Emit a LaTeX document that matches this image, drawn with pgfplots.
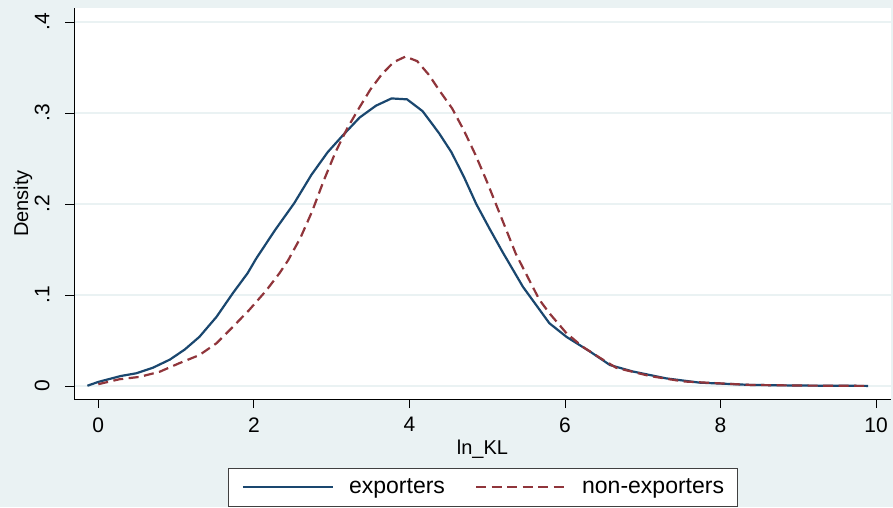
\documentclass[border=0pt]{standalone}
\usepackage{pgfplots}
\pgfplotsset{compat=1.18}
\usepackage{fontspec}
\setmainfont{Liberation Sans}
\definecolor{stbg}{RGB}{234,242,243}
\definecolor{stnavy}{RGB}{26,71,111}
\definecolor{stmaroon}{RGB}{144,53,59}
\definecolor{stgrid}{RGB}{234,242,243}
\begin{document}
\begin{tikzpicture}[x=1pt,y=1pt,font=\fontsize{21}{25}\selectfont]
\useasboundingbox (0,0) rectangle (893,507);
\clip (0,0) rectangle (893,507);
\fill[stbg] (0,0) rectangle (893,507);
\begin{axis}[
  at={(74pt,108pt)}, anchor=south west,
  scale only axis, width=817pt, height=391pt,
  xmin=-0.3125, xmax=10.193, ymin=-0.01429, ymax=0.41538,
  axis lines*=left, axis line style={black, line width=0.8pt, -},
  axis background/.style={fill=white},
  xtick={0,2,4,6,8,10},
  ytick={0,0.1,0.2,0.3,0.4}, yticklabels={0,.1,.2,.3,.4},
  tick align=outside, major tick length=9pt,
  tick style={black, line width=0.8pt},
  ymajorgrids, grid style={stgrid, line width=1.6pt},
  yticklabel style={xshift=-12pt, rotate=90, anchor=south},
  xticklabel style={yshift=-6pt},
  /pgf/number format/assume math mode=true,
  xlabel={ln\_KL}, ylabel={Density},
  every axis x label/.style={at={(axis description cs:0.5,-0.1279)}, anchor=center, font=\fontsize{20}{24}\selectfont},
  every axis y label/.style={at={(axis description cs:-0.0624,0.5)}, rotate=90, anchor=center, font=\fontsize{20}{24}\selectfont},
  legend style={at={(axis description cs:0.5006,-0.1754)}, anchor=north,
    legend columns=2, draw=black!75, fill=white, line width=0.8pt,
    font=\fontsize{23}{27}\selectfont,
    nodes={inner sep=0pt},
    /tikz/every odd column/.append style={column sep=15pt},
    /tikz/every even column/.append style={column sep=30pt},
    inner xsep=13pt, inner ysep=11pt},
  legend image code/.code={\draw[#1] (0pt,0pt) -- (90pt,0pt);},
]
\addplot[stnavy, line width=2.2pt] coordinates {
(-0.14,0.0003) (0.0,0.0045) (0.29,0.011) (0.49,0.014) (0.70,0.020) (0.92,0.029)
(1.11,0.040) (1.30,0.054) (1.52,0.076) (1.73,0.102) (1.92,0.124) (2.03,0.140)
(2.27,0.171) (2.52,0.201) (2.74,0.232) (2.95,0.257) (3.15,0.276) (3.36,0.295)
(3.57,0.308) (3.77,0.316) (3.97,0.315) (4.17,0.302) (4.38,0.278) (4.54,0.257)
(4.70,0.230) (4.86,0.200) (5.03,0.173) (5.20,0.147) (5.46,0.109) (5.80,0.069)
(6.02,0.054) (6.32,0.038) (6.58,0.023) (6.87,0.016) (7.30,0.0084) (7.73,0.0037)
(8.38,0.0012) (9.00,0.0005) (9.90,0.0001)
};
\addlegendentry{exporters}
\addplot[stmaroon, line width=2.2pt, dash pattern=on 10pt off 5.5pt] coordinates {
(0.0,0.002) (0.27,0.0074) (0.53,0.010) (0.79,0.0157) (1.04,0.025) (1.30,0.034)
(1.52,0.047) (1.73,0.065) (1.94,0.0835) (2.16,0.105) (2.33,0.124) (2.44,0.138)
(2.60,0.163) (2.75,0.192) (2.90,0.226) (3.05,0.257) (3.20,0.283) (3.35,0.305)
(3.50,0.326) (3.65,0.343) (3.80,0.356) (3.95,0.362) (4.10,0.357) (4.25,0.342)
(4.40,0.323) (4.55,0.305) (4.70,0.281) (4.85,0.254) (5.00,0.224) (5.15,0.192)
(5.37,0.145) (5.67,0.095) (5.80,0.080) (6.02,0.058) (6.23,0.043) (6.45,0.031)
(6.66,0.020) (7.09,0.011) (7.52,0.005) (8.38,0.0012) (9.00,0.0005) (9.90,0.0001)
};
\addlegendentry{non-exporters}
\end{axis}
\end{tikzpicture}
\end{document}
